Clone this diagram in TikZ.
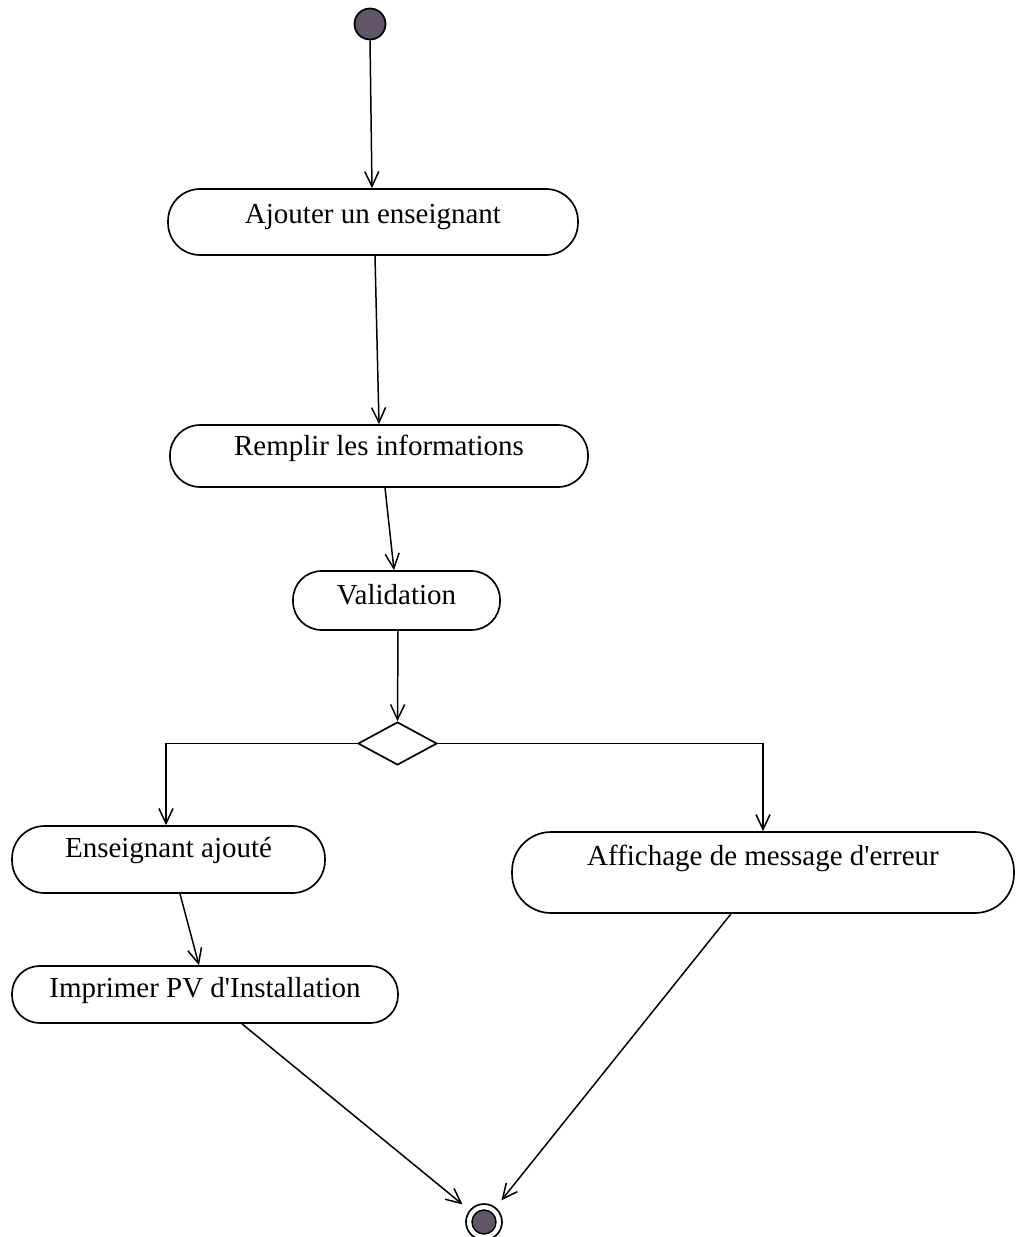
\documentclass[tikz,border=0pt]{standalone}
\usepackage{fontspec}
\setmainfont{Liberation Serif}
\usetikzlibrary{arrows.meta,shapes.geometric}
\definecolor{tokenfill}{RGB}{96,86,104}
\begin{document}
\begin{tikzpicture}[x=0.02cm,y=-0.02cm,
  line width=0.85pt,
  flow/.style={-{Straight Barb[length=8.5pt,width=8pt,line width=0.85pt]}},
  act/.style={draw, line width=0.95pt, inner sep=0pt, font=\fontsize{16.5}{19}\selectfont},
  decision/.style={draw, diamond, line width=0.95pt, inner sep=0pt, shape aspect=1.84,
    minimum width=1.58cm, minimum height=0.86cm},
  initial/.style={draw, circle, fill=tokenfill, line width=1pt, inner sep=0pt, minimum size=0.62cm},
  final/.style={draw, circle, line width=0.95pt, inner sep=0pt, minimum size=0.72cm,
    path picture={\fill[tokenfill, draw=black, line width=0.8pt]
      (path picture bounding box.center) circle[radius=0.24cm];}}
]
\useasboundingbox (0,0) rectangle (1016,1237);

% start and end tokens
\node[initial] (start) at (370,24) {};
\node[final] (stop) at (484,1222) {};

% activities
\node[act, minimum width=8.2cm, text height=0.68cm, text depth=0.64cm, rounded corners=0.64cm]
  (ajout) at (373,222) {Ajouter un enseignant};
\node[act, minimum width=8.36cm, text height=0.6cm, text depth=0.64cm, rounded corners=0.6cm]
  (remplir) at (379,456) {Remplir les informations};
\node[act, minimum width=4.14cm, text height=0.66cm, text depth=0.52cm, rounded corners=0.57cm]
  (valid) at (396.5,600.5) {Validation};
\node[decision] (choix) at (397.5,743.5) {};
\node[act, minimum width=6.26cm, text height=0.62cm, text depth=0.72cm, rounded corners=0.65cm]
  (ajoute) at (168.5,859.5) {Enseignant ajouté};
\node[act, minimum width=7.72cm, text height=0.62cm, text depth=0.52cm, rounded corners=0.55cm]
  (pv) at (205,994.5) {Imprimer PV d\textquotesingle Installation};
\node[act, minimum width=10.04cm, text height=0.66cm, text depth=0.96cm, rounded corners=0.78cm]
  (erreur) at (763,872.5) {Affichage de message d\textquotesingle erreur};

% transitions
\draw[flow] (start.south) -- ([xshift=-0.02cm]ajout.north);
\draw[flow] ([xshift=0.04cm]ajout.south) -- (remplir.north);
\draw[flow] ([xshift=0.12cm]remplir.south) -- ([xshift=-0.05cm]valid.north);
\draw[flow] ([xshift=0.03cm]valid.south) -- (choix.north);
\draw[flow] (choix.west) -| ([xshift=-0.05cm]ajoute.north);
\draw[flow] (choix.east) -| (erreur.north);
\draw[flow] ([xshift=0.23cm]ajoute.south) -- ([xshift=-0.12cm]pv.north);
\draw[flow, shorten >=0.18cm] ([xshift=0.74cm]pv.south) -- (stop);
\draw[flow, shorten >=0.18cm] ([xshift=-0.64cm]erreur.south) -- (stop);
\end{tikzpicture}
\end{document}
